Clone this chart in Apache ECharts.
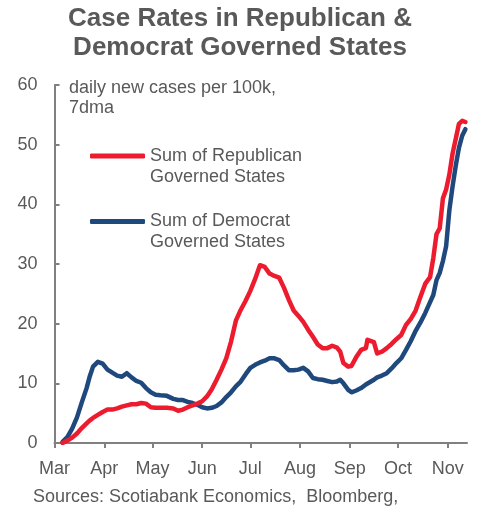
<!DOCTYPE html>
<html>
<head>
<meta charset="utf-8">
<script src="https://cdn.jsdelivr.net/npm/echarts@6/dist/echarts.min.js"></script>
<style>
html,body{margin:0;padding:0;background:#fff;}
#chart{width:480px;height:508px;}
</style>
</head>
<body>
<div id="chart"></div>
<script>
const titleText = 'Case Rates in Republican &\nDemocrat Governed States';
const noteText = 'daily new cases per 100k,\n7dma';
const sourceText = 'Sources: Scotiabank Economics,  Bloomberg,';
const seriesNames = ['Sum of Republican\nGoverned States', 'Sum of Democrat\nGoverned States'];
const monthTicks = ['2020-03-01','2020-04-01','2020-05-01','2020-06-01','2020-07-01','2020-08-01','2020-09-01','2020-10-01','2020-11-01'];
const yTicks = [0, 10, 20, 30, 40, 50, 60];

const dates = ['2020-03-06','2020-03-09','2020-03-12','2020-03-15','2020-03-18','2020-03-21','2020-03-23','2020-03-25','2020-03-28','2020-03-31',
'2020-04-03','2020-04-06','2020-04-09','2020-04-12','2020-04-15','2020-04-18','2020-04-21','2020-04-24','2020-04-27','2020-04-30',
'2020-05-03','2020-05-06','2020-05-10','2020-05-14','2020-05-17','2020-05-20','2020-05-23','2020-05-26','2020-05-29',
'2020-06-01','2020-06-04','2020-06-07','2020-06-10','2020-06-13','2020-06-16','2020-06-19','2020-06-22','2020-06-25','2020-06-28',
'2020-07-01','2020-07-04','2020-07-07','2020-07-10','2020-07-13','2020-07-16','2020-07-19','2020-07-22','2020-07-25','2020-07-28','2020-07-31',
'2020-08-03','2020-08-06','2020-08-09','2020-08-12','2020-08-15','2020-08-18','2020-08-21','2020-08-24','2020-08-26','2020-08-28','2020-08-31',
'2020-09-02','2020-09-05','2020-09-08','2020-09-11','2020-09-12','2020-09-16','2020-09-18','2020-09-21','2020-09-24','2020-09-27','2020-09-30',
'2020-10-03','2020-10-06','2020-10-09','2020-10-12','2020-10-15','2020-10-18','2020-10-21','2020-10-23','2020-10-25','2020-10-27','2020-10-29','2020-10-31',
'2020-11-02','2020-11-04','2020-11-06','2020-11-08','2020-11-10','2020-11-12'];

const repValues = [0.0,0.4,0.9,1.6,2.5,3.3,3.8,4.2,4.7,5.2,
5.6,5.6,5.8,6.1,6.3,6.5,6.5,6.7,6.6,6.0,
5.9,5.9,5.9,5.8,5.4,5.6,6.0,6.3,6.6,
7.0,7.8,9.0,10.6,12.3,14.2,17.0,20.5,22.3,23.8,
25.5,27.5,29.8,29.5,28.4,28.0,27.7,26.0,24.0,22.2,21.3,
20.3,19.0,17.8,16.5,15.9,15.9,16.3,16.0,15.3,13.4,12.8,
12.9,14.4,15.6,15.9,17.3,16.9,15.0,15.3,15.9,16.6,17.4,
18.1,19.8,20.8,22.2,24.5,26.7,27.8,31.0,35.0,36.0,41.0,42.5,
45.0,48.5,51.0,53.5,54.0,53.8];

const demValues = [0.2,1.0,2.4,4.3,6.8,9.2,11.2,12.8,13.6,13.3,
12.3,11.8,11.3,11.1,11.7,11.0,10.4,10.1,9.2,8.5,
8.1,8.0,7.9,7.4,7.2,7.2,6.9,6.7,6.4,
6.0,5.8,5.9,6.2,6.8,7.7,8.5,9.5,10.3,11.5,
12.6,13.1,13.5,13.8,14.2,14.2,13.9,13.0,12.2,12.2,12.3,
12.6,12.0,10.9,10.7,10.6,10.4,10.2,10.3,10.6,10.0,8.9,
8.5,8.8,9.2,9.8,10.0,10.6,11.0,11.3,11.7,12.5,13.4,
14.2,15.6,17.1,18.8,20.2,21.8,23.6,24.8,27.3,28.5,30.5,33.0,
39.0,43.0,46.5,49.5,51.5,52.6];

const xMin = '2020-03-01';
const xMax = '2020-11-13';

const FONT = "'Liberation Sans', Arial, sans-serif";
const TXT = '#595959';
const RED = '#EC1C2E';
const BLUE = '#1F497D';

function ts(s){ const p = s.split('-'); return new Date(+p[0], +p[1]-1, +p[2]).getTime(); }

const chart = echarts.init(document.getElementById('chart'), null, {renderer: 'canvas'});
chart.setOption({
  animation: false,
  backgroundColor: '#ffffff',
  title: [
    { text: titleText, left: 'center', top: 5, padding: 0,
      textStyle: { fontFamily: FONT, fontSize: 26, fontWeight: 'bold', color: TXT, lineHeight: 28.5 } },
    { text: noteText, left: 69, top: 78, padding: 0,
      textStyle: { fontFamily: FONT, fontSize: 18, fontWeight: 'normal', color: TXT, lineHeight: 20 } },
    { text: sourceText, left: 33, top: 487, padding: 0,
      textStyle: { fontFamily: FONT, fontSize: 18, fontWeight: 'normal', color: TXT, lineHeight: 20 } }
  ],
  legend: {
    orient: 'vertical', left: 90, top: 124.5, padding: 0, itemGap: 2.5,
    icon: 'roundRect', itemWidth: 55, itemHeight: 5,
    data: seriesNames,
    formatter: function (name) { return '\n' + name; },
    textStyle: { fontFamily: FONT, fontSize: 18, color: TXT, lineHeight: 21 }
  },
  grid: { left: 54.5, right: 13, top: 85, bottom: 65, containLabel: false },
  xAxis: {
    type: 'time', min: ts(xMin), max: ts(xMax),
    axisLine: { lineStyle: { color: '#808080', width: 2 } },
    axisTick: { show: true, length: 5, lineStyle: { color: '#808080', width: 2 }, customValues: monthTicks.map(ts) },
    axisLabel: { customValues: monthTicks.map(ts), formatter: '{MMM}', fontFamily: FONT, fontSize: 18, color: TXT, margin: 17, hideOverlap: false },
    splitLine: { show: false }
  },
  yAxis: {
    type: 'value', min: yTicks[0], max: yTicks[yTicks.length - 1], interval: 10,
    axisLine: { show: true, lineStyle: { color: '#808080', width: 2 } },
    axisTick: { show: true, inside: true, length: 5, lineStyle: { color: '#808080', width: 2 } },
    axisLabel: { fontFamily: FONT, fontSize: 18, color: TXT, margin: 17 },
    splitLine: { show: false }
  },
  series: [
    { name: seriesNames[0], type: 'line', showSymbol: false, symbol: 'none', color: RED,
      lineStyle: { color: RED, width: 4.5, cap: 'round', join: 'round' },
      data: dates.map((d, i) => [d, repValues[i]]), z: 3 },
    { name: seriesNames[1], type: 'line', showSymbol: false, symbol: 'none', color: BLUE,
      lineStyle: { color: BLUE, width: 4.5, cap: 'round', join: 'round' },
      data: dates.map((d, i) => [d, demValues[i]]), z: 2 }
  ]
});
</script>
</body>
</html>
